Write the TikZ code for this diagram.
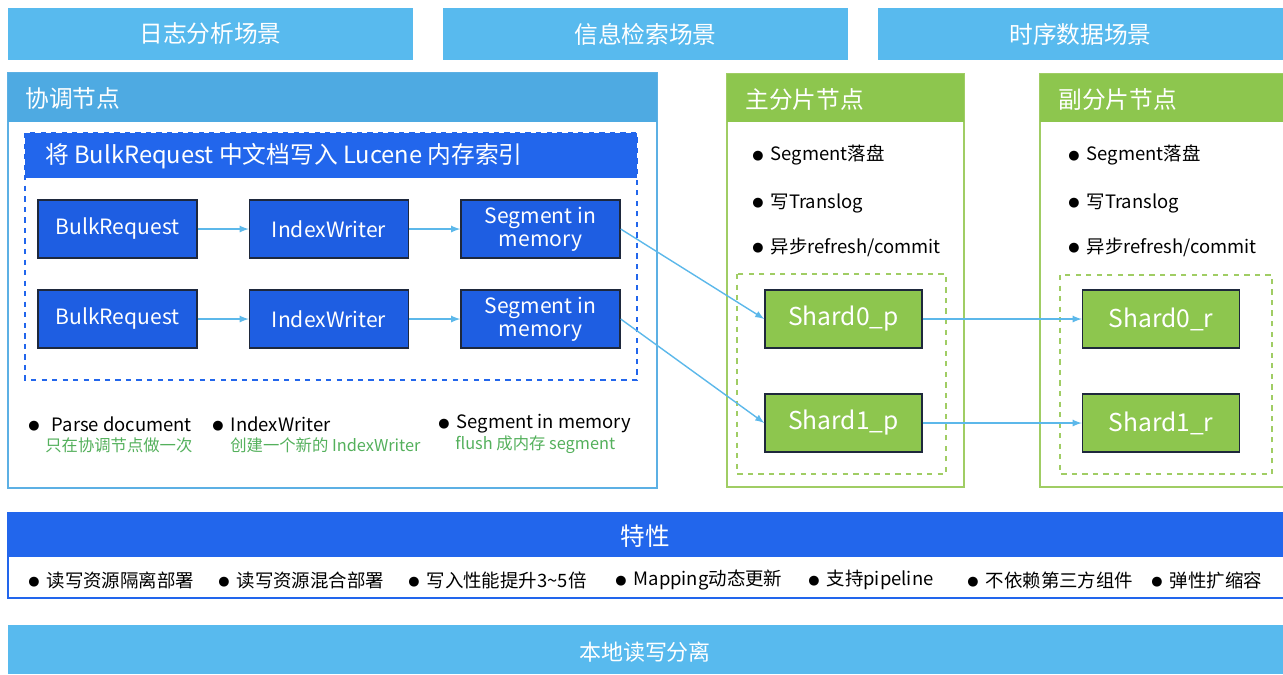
\documentclass[tikz,border=0pt]{standalone}
\usepackage{fontspec}
\usepackage{graphicx}
\setmainfont{Noto Sans CJK SC}
\newfontfamily\symfont{DejaVu Sans}
\usepackage{tikz}
\usetikzlibrary{arrows}
\definecolor{skyb}{RGB}{88,186,238}
\definecolor{coordhead}{RGB}{78,170,226}
\definecolor{coordline}{RGB}{92,176,228}
\definecolor{deepblue}{RGB}{34,102,236}
\definecolor{boxblue}{RGB}{30,94,226}
\definecolor{darkline}{RGB}{30,40,60}
\definecolor{leaf}{RGB}{141,198,78}
\definecolor{leafline}{RGB}{160,205,100}
\definecolor{notegreen}{RGB}{84,176,92}
\definecolor{arrowblue}{RGB}{92,184,234}
\newcommand{\dotmark}{{\symfont\raisebox{0.12ex}{\scalebox{0.7}{●}}}}

\begin{document}
\begin{tikzpicture}[x=0.02cm,y=-0.02cm,>=latex,
 topbar/.style={fill=skyb, text=white, minimum width=8.1cm, minimum height=1.04cm, inner sep=0pt, font=\fontsize{13.5}{16}\selectfont},
 headtext/.style={anchor=west, text=white, inner sep=0pt, font=\fontsize{13.5}{16}\selectfont},
 blk/.style={fill=boxblue, draw=darkline, thick, text=white, minimum width=3.18cm, minimum height=1.16cm, align=center, inner sep=1pt, font=\fontsize{12}{13}\selectfont},
 shd/.style={fill=leaf, draw=darkline, thick, text=white, minimum width=3.14cm, minimum height=1.16cm, inner sep=1pt, font=\fontsize{14}{16}\selectfont},
 pointtext/.style={anchor=west, inner sep=0pt, font=\fontsize{10.5}{12}\selectfont},
 subnote/.style={anchor=west, inner sep=0pt, text=notegreen, font=\fontsize{9.3}{11}\selectfont},
 flowarrow/.style={->, draw=arrowblue, thick}]
 \useasboundingbox (0,0) rectangle (1283,674);
 %\draw [help lines] (0,0) grid [step=50] (1283,674);
 % scenes
 \node [topbar] (L) at (210.5,34) {日志分析场景};
 \node [topbar] (I) at (645.5,34) {信息检索场景};
 \node [topbar] (T) at (1080.5,34) {时序数据场景};
 % coordinating node
 \draw [coordline, thick] (8,73) rectangle (657,488);
 \fill [coordhead] (8,73) rectangle (657,122);
 \node [headtext] (C) at (25,98) {协调节点};
 \fill [deepblue] (25,133) rectangle (637,178);
 \draw [deepblue, thick, dashed] (25,133) rectangle (637,380);
 \node [headtext] (W) at (45,156) {将 BulkRequest 中文档写入 Lucene 内存索引};
 \node [blk] (B1) at (117.5,229) {BulkRequest};
 \node [blk] (X1) at (329,229) {IndexWriter};
 \node [blk] (M1) at (540.5,229) {Segment in\\memory};
 \node [blk] (B2) at (117.5,319) {BulkRequest};
 \node [blk] (X2) at (329,319) {IndexWriter};
 \node [blk] (M2) at (540.5,319) {Segment in\\memory};
 \draw [flowarrow] (B1) -- (X1);
 \draw [flowarrow] (X1) -- (M1);
 \draw [flowarrow] (B2) -- (X2);
 \draw [flowarrow] (X2) -- (M2);
 %
 \node [pointtext] (N1) at (28,424) {\dotmark\hspace{7pt}Parse document};
 \node [subnote] (G1) at (45,445) {只在协调节点做一次};
 \node [pointtext] (N2) at (212,424) {\dotmark\hspace{4pt}IndexWriter};
 \node [subnote] (G2) at (230,445) {创建一个新的 IndexWriter};
 \node [pointtext] (N3) at (438,424) {\dotmark\hspace{4pt}Segment in memory};
 \node [subnote] (G3) at (455,445) {flush 成内存 segment};
 % primary shard node
 \draw [leafline, thick] (727,74) rectangle (964,487);
 \fill [leaf] (727,74) rectangle (964,122);
 \node [headtext] (P) at (745,100) {主分片节点};
 \node [pointtext] (P1) at (752,155) {\dotmark\hspace{4pt}Segment落盘};
 \node [pointtext] (P2) at (752,203) {\dotmark\hspace{4pt}写Translog};
 \node [pointtext] (P3) at (752,247) {\dotmark\hspace{4pt}异步refresh/commit};
 \draw [leafline, thick, dashed] (737,274) rectangle (946,474);
 \node [shd] (S0p) at (843.5,319) {Shard0\_p};
 \node [shd] (S1p) at (843.5,423) {Shard1\_p};
 % replica shard node
 \draw [leafline, thick] (1040,74) rectangle (1285,487);
 \fill [leaf] (1040,74) rectangle (1283,122);
 \node [headtext] (R) at (1058,100) {副分片节点};
 \node [pointtext] (R1) at (1068,155) {\dotmark\hspace{4pt}Segment落盘};
 \node [pointtext] (R2) at (1068,203) {\dotmark\hspace{4pt}写Translog};
 \node [pointtext] (R3) at (1068,247) {\dotmark\hspace{4pt}异步refresh/commit};
 \draw [leafline, thick, dashed] (1060,275) rectangle (1272,474);
 \node [shd] (S0r) at (1161,319) {Shard0\_r};
 \node [shd] (S1r) at (1161,423) {Shard1\_r};
 %
 \draw [flowarrow] (M1.east) -- (S0p.west);
 \draw [flowarrow] (M2.east) -- (S1p.west);
 \draw [flowarrow] (S0p) -- (S0r);
 \draw [flowarrow] (S1p) -- (S1r);
 % features
 \draw [deepblue, thick] (8,513) rectangle (1285,598);
 \fill [deepblue] (8,513) rectangle (1283,557);
 \node [text=white, font=\fontsize{14}{16}\selectfont] (F) at (645,536) {特性};
 \node [pointtext] (F1) at (28,580) {\dotmark\hspace{4pt}读写资源隔离部署};
 \node [pointtext] (F2) at (218,580) {\dotmark\hspace{4pt}读写资源混合部署};
 \node [pointtext] (F3) at (408,580) {\dotmark\hspace{4pt}写入性能提升3\textasciitilde5倍};
 \node [pointtext] (F4) at (615,580) {\dotmark\hspace{4pt}Mapping动态更新};
 \node [pointtext] (F5) at (808,580) {\dotmark\hspace{4pt}支持pipeline};
 \node [pointtext] (F6) at (967,580) {\dotmark\hspace{4pt}不依赖第三方组件};
 \node [pointtext] (F7) at (1151,580) {\dotmark\hspace{4pt}弹性扩缩容};
 % local read/write split
 \fill [skyb] (8,625) rectangle (1283,674);
 \node [text=white, font=\fontsize{12.5}{15}\selectfont] (D) at (645,652) {本地读写分离};
\end{tikzpicture}
\end{document}
